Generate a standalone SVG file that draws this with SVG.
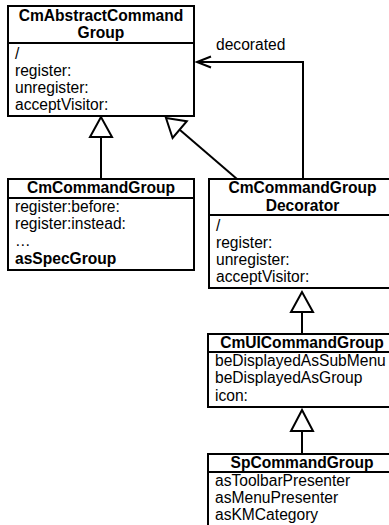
<svg xmlns="http://www.w3.org/2000/svg" width="389" height="525" viewBox="0 0 389 525">
<style>
.box{fill:#fff;stroke:#000;stroke-width:2}
.ln{stroke:#000;stroke-width:2;fill:none}
.t{font-family:"Liberation Sans",Arial,sans-serif;font-size:15.6px;fill:#000}
.b{font-weight:bold;text-anchor:middle}
.tri{fill:#fff;stroke:#000;stroke-width:2;stroke-linejoin:miter}
</style>
<rect width="389" height="525" fill="#fff"/>
<g id="connectors">
<line class="ln" x1="101" y1="137" x2="101" y2="179"/>
<polygon class="tri" points="101,117 90,137 112,137"/>
<line class="ln" x1="237" y1="179" x2="180" y2="130"/>
<polygon class="tri" points="166,118 172.6,138 186.8,121.2"/>
<polyline class="ln" points="303,179 303,62 197,62"/>
<polyline class="ln" points="211,56.5 197,62 211,67.5"/>
<text class="t" x="216" y="50">decorated</text>
<line class="ln" x1="302" y1="312" x2="302" y2="334"/>
<polygon class="tri" points="302,292 291,312 313,312"/>
<line class="ln" x1="302" y1="431" x2="302" y2="454"/>
<polygon class="tri" points="302,410 291,431 313,431"/>
</g>
<g id="CmAbstractCommandGroup">
<rect class="box" x="8" y="6" width="186" height="110"/>
<line class="ln" x1="8" y1="43" x2="194" y2="43"/>
<text class="t b" x="101" y="21">CmAbstractCommand</text>
<text class="t b" x="101" y="38">Group</text>
<text class="t" x="15" y="59">/</text>
<text class="t" x="15" y="76">register:</text>
<text class="t" x="15" y="93">unregister:</text>
<text class="t" x="15" y="110">acceptVisitor:</text>
</g>
<g id="CmCommandGroup">
<rect class="box" x="8" y="179" width="186" height="91"/>
<line class="ln" x1="8" y1="198" x2="194" y2="198"/>
<text class="t b" x="101" y="193">CmCommandGroup</text>
<text class="t" x="15" y="212">register:before:</text>
<text class="t" x="15" y="229">register:instead:</text>
<text class="t" x="15" y="246">…</text>
<text class="t" x="15" y="264" font-weight="bold">asSpecGroup</text>
</g>
<g id="CmCommandGroupDecorator">
<rect class="box" x="209" y="179" width="187" height="109"/>
<line class="ln" x1="209" y1="215" x2="396" y2="215"/>
<text class="t b" x="302.5" y="193">CmCommandGroup</text>
<text class="t b" x="302.5" y="211">Decorator</text>
<text class="t" x="216" y="231">/</text>
<text class="t" x="216" y="248">register:</text>
<text class="t" x="216" y="265">unregister:</text>
<text class="t" x="216" y="282">acceptVisitor:</text>
</g>
<g id="CmUICommandGroup">
<rect class="box" x="208" y="334" width="188" height="73"/>
<line class="ln" x1="208" y1="352" x2="396" y2="352"/>
<text class="t b" x="302" y="348">CmUICommandGroup</text>
<text class="t" x="215" y="366">beDisplayedAsSubMenu</text>
<text class="t" x="215" y="383">beDisplayedAsGroup</text>
<text class="t" x="215" y="401">icon:</text>
</g>
<g id="SpCommandGroup">
<rect class="box" x="208" y="454" width="188" height="80"/>
<line class="ln" x1="208" y1="472" x2="396" y2="472"/>
<text class="t b" x="302" y="468">SpCommandGroup</text>
<text class="t" x="215" y="486">asToolbarPresenter</text>
<text class="t" x="215" y="503">asMenuPresenter</text>
<text class="t" x="215" y="520">asKMCategory</text>
</g>
</svg>
